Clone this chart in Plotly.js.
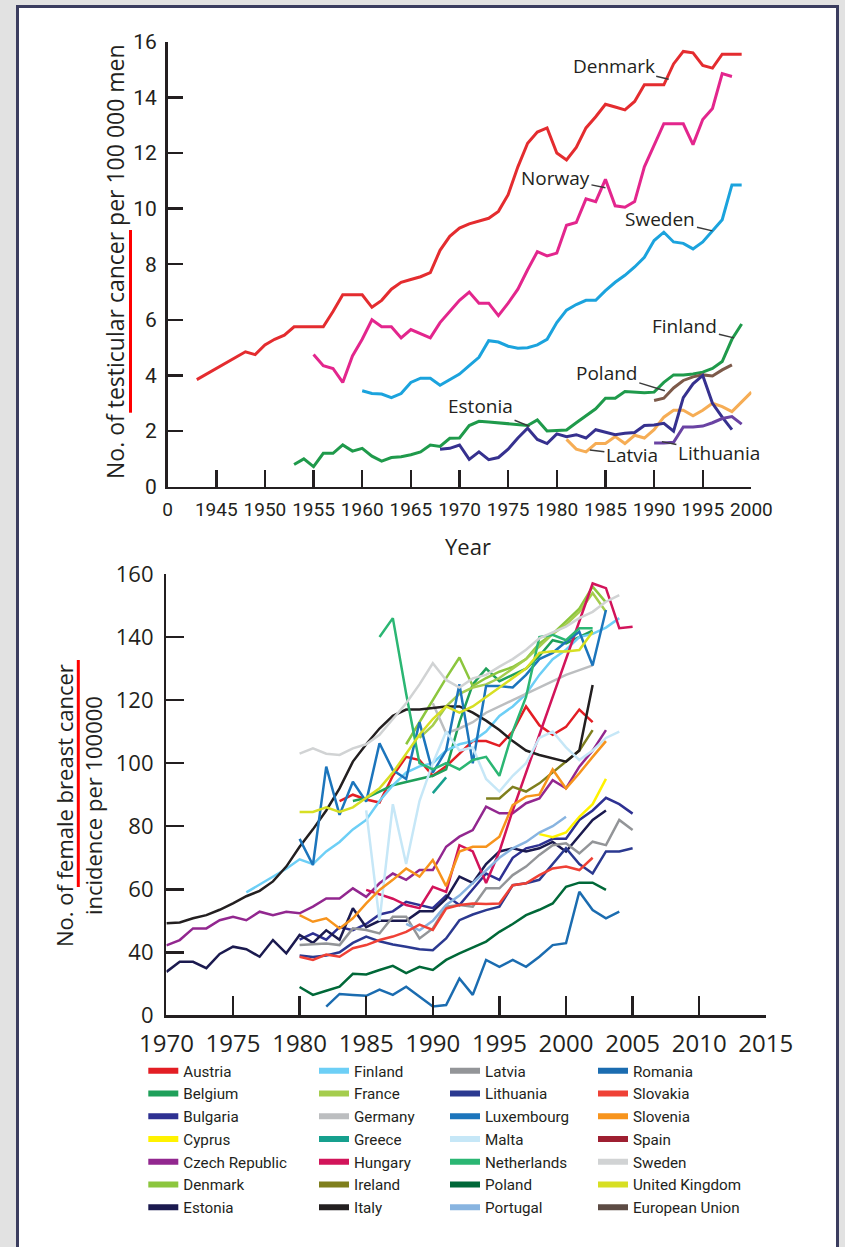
<!DOCTYPE html>
<html><head><meta charset="utf-8">
<script src="https://cdn.plot.ly/plotly-3.0.1.min.js"></script>
<style>
html,body{margin:0;padding:0;background:#e2e2e2;width:845px;height:1247px;overflow:hidden;}
#frame{position:absolute;left:16px;top:5px;width:817px;height:1300px;border:3px solid #3b3d5f;background:#fff;}
#chart{position:absolute;left:0;top:0;width:845px;height:1247px;}
</style></head><body><div id="frame"></div><div id="chart"></div>
<script>
// ---------- Top chart: testicular cancer (start year + annual values) ----------
const topNames  = ['Denmark','Norway','Sweden','Finland','Poland','Latvia','Estonia','Lithuania'];
const topColors = ['#e42c2f','#e3268d','#1ba3dd','#1f9a4b','#7d5a4a','#f6ad55','#36318f','#6a43a3'];
const topStart  = [1943,1955,1960,1953,1990,1981,1968,1990];
const dkTop = [3.85,4.05,4.25,4.45,4.65,4.85,4.75,5.1,5.3,5.45,5.75,5.75,5.75,5.75,6.3,6.9,6.9,6.9,6.45,6.7,7.1,7.35,7.45,7.55,7.7,8.5,9.0,9.3,9.45,9.55,9.65,9.9,10.5,11.5,12.35,12.75,12.9,12.0,11.75,12.2,12.9,13.3,13.75,13.65,13.55,13.85,14.45,14.45,14.45,15.2,15.65,15.6,15.15,15.05,15.55,15.55,15.55];
const noTop = [4.75,4.35,4.25,3.75,4.7,5.3,6.0,5.75,5.75,5.35,5.65,5.5,5.35,5.9,6.3,6.7,7.0,6.6,6.6,6.15,6.6,7.1,7.8,8.45,8.3,8.4,9.4,9.5,10.35,10.25,11.05,10.1,10.05,10.25,11.5,12.3,13.05,13.05,13.05,12.3,13.2,13.6,14.85,14.75];
const seTop = [3.45,3.35,3.33,3.2,3.35,3.75,3.9,3.9,3.65,3.85,4.05,4.35,4.65,5.25,5.2,5.05,4.98,5.0,5.1,5.3,5.9,6.35,6.55,6.7,6.7,7.05,7.35,7.6,7.9,8.25,8.85,9.15,8.8,8.75,8.55,8.8,9.2,9.6,10.85,10.85];
const fiTop = [0.8,1.0,0.72,1.2,1.2,1.5,1.28,1.38,1.1,0.92,1.05,1.08,1.15,1.25,1.5,1.45,1.74,1.75,2.2,2.35,2.33,2.3,2.26,2.22,2.2,2.4,2.0,2.02,2.04,2.3,2.55,2.8,3.18,3.18,3.42,3.4,3.38,3.4,3.75,4.02,4.02,4.05,4.12,4.25,4.5,5.3,5.85];
const plTop = [3.1,3.18,3.55,3.82,3.95,4.02,3.98,4.2,4.38];
const lvTop = [1.7,1.35,1.25,1.55,1.55,1.8,1.55,1.85,1.75,2.05,2.5,2.75,2.75,2.55,2.75,3.0,2.88,2.7,3.05,3.4];
const eeTop = [1.35,1.38,1.5,0.98,1.25,0.97,1.05,1.35,1.75,2.1,1.7,1.55,1.9,1.8,1.87,1.75,2.05,1.95,1.87,1.92,1.95,2.2,2.22,2.28,2.0,3.2,3.7,4.0,3.0,2.5,2.05];
const ltTop = [1.57,1.57,1.6,2.15,2.15,2.18,2.3,2.45,2.52,2.25];
const topValues = [dkTop,noTop,seTop,fiTop,plTop,lvTop,eeTop,ltTop];
const topXTicks  = [1940,1945,1950,1955,1960,1965,1970,1975,1980,1985,1990,1995,2000];
const topXLabels = ['0','1945','1950','1955','1960','1965','1970','1975','1980','1985','1990','1995','2000'];
const topYTicks  = [0,2,4,6,8,10,12,14,16];
// label anchors on the curves
const topLabelYear = [1991.5,1985.0,1996.0,1998.2,1991.1,1977.2,1983.4,1990.8];
const topLabelVal  = [14.65,10.75,9.2,5.35,3.45,2.17,1.32,1.62];
const topLabelText = ['Denmark','Norway','Sweden','Finland','Poland','Estonia','Latvia','Lithuania'];
const topLabelDx   = [-55,-50,-52,-49,-58,-49,42,57];
const topLabelDy   = [-13,-10,-12,-12,-18,-20,5,11];

// ---------- Bottom chart: female breast cancer ----------
const bNames = ['Austria','Belgium','Bulgaria','Cyprus','Czech Republic','Denmark','Estonia',
                'Finland','France','Germany','Greece','Hungary','Ireland','Italy',
                'Latvia','Lithuania','Luxembourg','Malta','Netherlands','Poland','Portugal',
                'Romania','Slovakia','Slovenia','Spain','Sweden','United Kingdom','European Union'];
const bColors = ['#e31e24','#1fa05a','#2e3192','#fff200','#92278f','#8cc63e','#1b1a4f',
                 '#6dcff6','#a5cd4e','#bcbec0','#16a08e','#d2145a','#7f7f1d','#231f20',
                 '#939598','#2b3990','#1c75bc','#c6e7f7','#2bb673','#006838','#88b4e0',
                 '#1b6cb0','#ef4136','#f7941d','#9e1f31','#d1d3d4','#d7df23','#5c4b44'];
const bStart = [1983,1984,1980,1998,1970,1988,1970,
                1976,1989,1990,1990,1985,1994,1970,
                1980,1980,1980,1985,1986,1980,1988,
                1982,1980,1980,1990,1980,1980,1990];
const austria  = [88,90,88.5,87.5,96,102,101,96,99,103,107,107,105.5,110,118,112,109,111.5,117,113];
const belgium  = [88,89,91,93,94,95,96,98,113,125,130,126,128,130,134,139,138,140,142];
const bulgaria = [44,46,44,48,47,49,52,53,56,55,54,58,55,60,65,63,70,73,74,76,76,82,85,89,87,84];
const cyprus   = [77.5,76.5,78,83,87,95];
const czech    = [42.2,43.9,47.6,47.6,50.2,51.3,50.2,52.9,51.8,52.9,52.4,54.5,57.1,57.1,60.3,57.6,61.9,65,63,66.1,66.1,73.5,76.7,78.8,86.2,84.1,84.1,87.3,88.8,94.6,92,98.9,104,110.5];
const denmark  = [106,113,120,127,133.5,124.5,127,129,130.5,133,138,141,145,149,156,151];
const estonia  = [33.8,37,37,35,39.5,41.8,41,38.6,43.9,39.7,45.5,43,47,44,54,48,50,50,50,53,53,57,64,62,68,72,73,72,73,75,72,77,82,85];
const finland  = [59,61.5,64,66.5,69.5,68,72,75,79,82,88,93,97,99,100,104,106,107,110,115,118,122,128,133,136,140,141,143,146];
const france   = [108,112,118,122,124,125,127,130,133,137,141,144,148,154,148];
const germany  = [119,109.5,111,113,116,118,120,122,124,126,128,129.5,131];
const greece   = [90.5,95.5];
const hungary  = [59.8,58.5,57,55,54,60.8,59.2,74,72,62,72,85,97,109,121,133,145,157,155.5,142.8,143.3];
const ireland  = [88.8,88.8,92.5,91,93.6,97,100.5,104,110.5];
const italy    = [49.2,49.5,50.8,51.8,53.5,55.5,57.8,59.5,62.5,67.2,73.5,79,85,92,100.5,106,111,115,117,117,117.5,118,118,116,113.5,110.5,107,104,102.6,101.5,100.5,104,124.8];
const latvia   = [42.3,42.5,42.8,42.3,47.6,47.1,46,51.3,51.3,44.4,47.6,54.5,55,54.5,60.3,60.3,64.5,67.2,70.9,74,74.6,71.4,75.1,74,82,78.8];
const lithuania= [39,38.5,39,40,43,45,43.5,42.5,41.8,41,40.7,44.4,50.2,52,53.4,54.5,61.3,61.9,63,68,73,68,65,72,72,73];
const luxembourg=[76,67.7,98.9,83.6,94.1,87.8,106.3,97.8,95,113,97,104,125,100,124.5,124.5,124,128,133,135,138.5,141.7,131,148.6];
const malta    = [85,50,87,68,88,100,110,104,105,95,91,96,100,108,110,105,101,104,108,110];
const netherlands=[140,146,122,100,98,100,98,101,102,96,110,121,140,140.7,139,142.8,142.8];
const poland   = [29,26.5,27.8,29.1,33.2,33,34.4,35.7,33.4,35.4,34.4,37.6,39.7,41.5,43.4,46.5,49,51.8,53.5,55.5,60.8,62.1,62.1,59.8];
const portugal = [49,47,50,55,58,62,66,70,73,75,78,80,83];
const romania  = [22.8,26.8,26.5,26.2,28.2,26.5,29.1,25.9,22.8,23.3,31.7,26.5,37.6,35.4,37.6,35.4,38.6,42.3,42.9,59.2,53.4,50.8,52.9];
const slovakia = [38.6,37.6,39.3,38.6,41.3,42.3,43.9,45,46.5,48.8,47.1,53.9,55,55.5,55.3,55.5,61.3,61.9,64.5,66.6,67.2,66.1,70];
const slovenia = [51.8,49.7,50.8,47.6,50.8,55.5,59.8,63,66.6,64,69.3,61,72,73.5,73.5,76.7,86.7,89.4,90,98,92,96.8,102,107];
const spain    = [];
const sweden   = [103,104.7,103,102.6,104.7,106,109,114,119,125,131.7,126.4,124,126.9,128,130.6,133,136,139.6,141.5,143.3,146,148,151.2,153.3];
const uk       = [84.5,84.5,86,84.5,86,89,92,97,103,109,114,118,116,118,121,124,127,130,135,135.5,135.4,135.9,141.7];
const eu       = [];
const bValues = [austria,belgium,bulgaria,cyprus,czech,denmark,estonia,
                 finland,france,germany,greece,hungary,ireland,italy,
                 latvia,lithuania,luxembourg,malta,netherlands,poland,portugal,
                 romania,slovakia,slovenia,spain,sweden,uk,eu];
const bXTicks = [1970,1975,1980,1985,1990,1995,2000,2005,2010,2015];
const bYTicks = [20,40,60,80,100,120,140,160];
const bYLabels = ['0','40','60','80','100','120','140','160'];

// ---------- build ----------
const W = 845, H = 1247;
const INK = '#231f20';
const SANS = '"Open Sans","Noto Sans",sans-serif';
const TICKF = 'Roboto,"Open Sans",sans-serif';
const yearsFrom = (s, v) => v.map((_, i) => s + i);

const traces = [];
topValues.forEach((v, i) => traces.push({
  x: yearsFrom(topStart[i], v), y: v, xaxis: 'x', yaxis: 'y', mode: 'lines',
  name: topNames[i], showlegend: false, hoverinfo: 'skip',
  line: {color: topColors[i], width: 3}
}));
bValues.forEach((v, i) => traces.push({
  x: yearsFrom(bStart[i], v), y: v, xaxis: 'x2', yaxis: 'y2', mode: 'lines',
  name: bNames[i], showlegend: false, hoverinfo: 'skip',
  line: {color: bColors[i], width: 2.5}
}));
// legend entries (thick swatches), one legend per column of seven
const legIds = ['legend','legend2','legend3','legend4'];
bNames.forEach((n, i) => traces.push({
  x: [null], y: [null], xaxis: 'x2', yaxis: 'y2', mode: 'lines', name: n,
  legend: legIds[Math.floor(i / 7)], showlegend: true, hoverinfo: 'skip',
  line: {color: bColors[i], width: 6}
}));

const axBase = {showgrid: false, zeroline: false, showline: true, linewidth: 2.5, linecolor: INK,
  ticks: 'inside', tickcolor: INK, tickwidth: 2.5, fixedrange: true, tickmode: 'array', tickangle: 0};

const legBase = (xpx) => ({x: xpx / W, y: 1 - 1054.3 / H, xref: 'paper', yref: 'paper',
  xanchor: 'left', yanchor: 'top', orientation: 'v', bgcolor: 'rgba(0,0,0,0)', borderwidth: 0,
  tracegroupgap: 0, itemwidth: 30, itemclick: false, itemdoubleclick: false,
  font: {family: '"Roboto","Open Sans",sans-serif', size: 15.2, color: INK}});

const annotations = topLabelText.map((t, i) => ({
  xref: 'x', yref: 'y', x: topLabelYear[i], y: topLabelVal[i], text: t,
  showarrow: true, arrowhead: 0, arrowwidth: 1.4, arrowcolor: '#3a3a3a',
  ax: topLabelDx[i], ay: topLabelDy[i], standoff: 0,
  font: {family: SANS, size: 19, color: INK}
}));
annotations.push({xref: 'paper', yref: 'paper', x: 115 / W, y: 1 - 262 / H, showarrow: false,
  text: 'No. of testicular cancer per 100 000 men', textangle: -90,
  xanchor: 'center', yanchor: 'middle', font: {family: SANS, size: 23, color: INK}});
annotations.push({xref: 'paper', yref: 'paper', x: 468 / W, y: 1 - 546 / H, showarrow: false,
  text: 'Year', xanchor: 'center', yanchor: 'middle', font: {family: SANS, size: 22, color: INK}});
annotations.push({xref: 'paper', yref: 'paper', x: 78 / W, y: 1 - 806 / H, showarrow: false,
  text: 'No. of female breast cancer<br>incidence per 100000', textangle: -90,
  xanchor: 'center', yanchor: 'middle', font: {family: SANS, size: 22, color: INK}});

const layout = {
  width: W, height: H, margin: {l: 0, r: 0, t: 0, b: 0}, autosize: false,
  paper_bgcolor: 'rgba(0,0,0,0)', plot_bgcolor: 'rgba(0,0,0,0)', hovermode: false,
  xaxis: Object.assign({}, axBase, {domain: [167.6 / W, 751.4 / W], range: [1940, 2000], anchor: 'y',
    tickvals: topXTicks, ticktext: topXLabels, ticklen: 17, ticklabelstandoff: 4,
    tickfont: {family: TICKF, size: 19, color: INK}}),
  yaxis: Object.assign({}, axBase, {domain: [1 - 486.7 / H, 1 - 41.7 / H], range: [0, 16], anchor: 'x',
    tickvals: topYTicks, ticktext: topYTicks.map(String), ticklen: 15, ticklabelstandoff: 4,
    tickfont: {family: TICKF, size: 21, color: INK}}),
  xaxis2: Object.assign({}, axBase, {domain: [166.4 / W, 765.8 / W], range: [1970, 2015], anchor: 'y2',
    tickvals: bXTicks, ticktext: bXTicks.map(String), ticklen: 19, ticklabelstandoff: 5,
    tickfont: {family: SANS, size: 24, color: INK}}),
  yaxis2: Object.assign({}, axBase, {domain: [1 - 1015.4 / H, 1 - 574 / H], range: [20, 160], anchor: 'x2',
    tickvals: bYTicks, ticktext: bYLabels, ticklen: 18, ticklabelstandoff: 6,
    tickfont: {family: SANS, size: 22, color: INK}}),
  legend: legBase(143.3), legend2: legBase(314), legend3: legBase(445), legend4: legBase(593),
  annotations: annotations,
  shapes: [
    {type: 'line', xref: 'paper', yref: 'paper', x0: 130.5 / W, x1: 130.5 / W, y0: 1 - 230 / H, y1: 1 - 412.7 / H,
     line: {color: '#ff0000', width: 3}},
    {type: 'line', xref: 'paper', yref: 'paper', x0: 78.3 / W, x1: 78.3 / W, y0: 1 - 660 / H, y1: 1 - 887 / H,
     line: {color: '#ff0000', width: 3}}
  ]
};
Plotly.newPlot('chart', traces, layout, {staticPlot: true, displayModeBar: false});
</script></body></html>
